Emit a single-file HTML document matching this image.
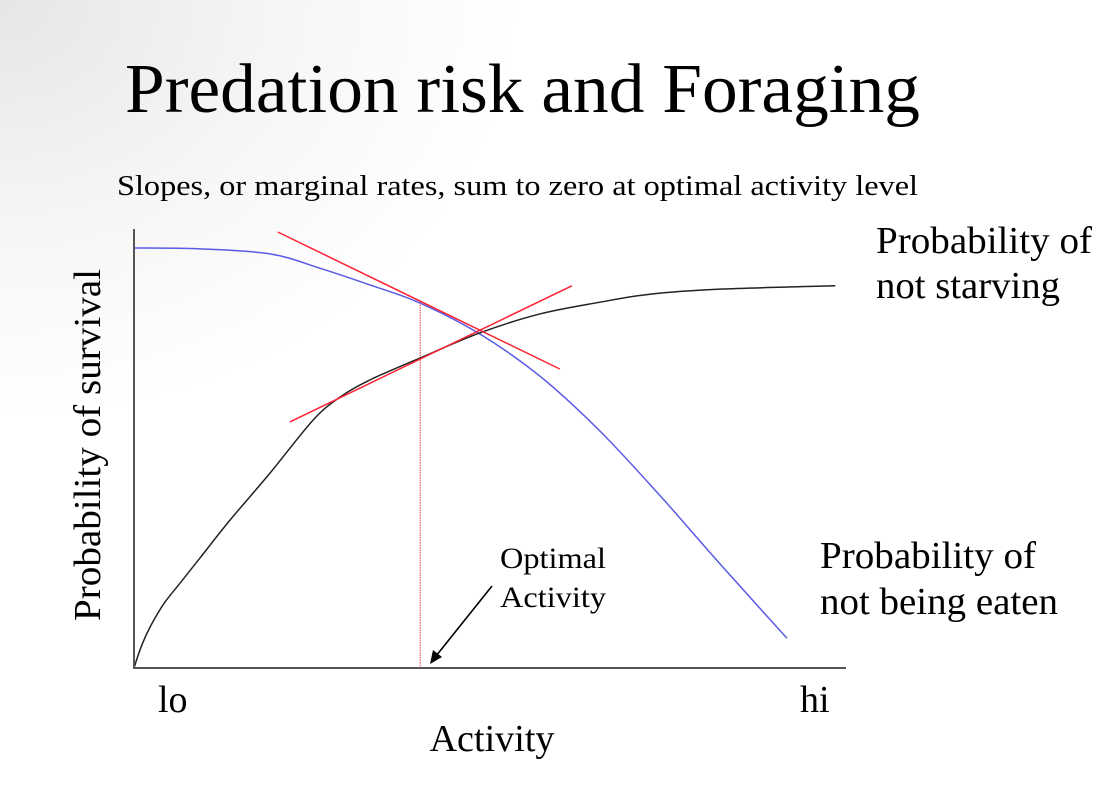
<!DOCTYPE html>
<html><head><meta charset="utf-8"><style>
html,body{margin:0;padding:0}
body{width:1109px;height:786px;overflow:hidden;background:radial-gradient(ellipse 520px 420px at 0 0,#e6e6e6 0%,#f6f6f6 55%,#fff 100%);font-family:"Liberation Serif",serif}
svg{position:absolute;left:0;top:0}
</style></head><body>
<svg width="1109" height="786" font-family="Liberation Serif, serif">
<text x="125" y="112" font-size="70" textLength="795" lengthAdjust="spacingAndGlyphs">Predation risk and Foraging</text>
<text x="117" y="195" font-size="29" textLength="801" lengthAdjust="spacingAndGlyphs">Slopes, or marginal rates, sum to zero at optimal activity level</text>
<g id="plot"></g>
<text transform="translate(100,445) rotate(-90)" text-anchor="middle" font-size="38" textLength="352" lengthAdjust="spacingAndGlyphs">Probability of survival</text>
<text x="158" y="712" font-size="38">lo</text>
<text x="800" y="712" font-size="38">hi</text>
<text x="492" y="751" text-anchor="middle" font-size="38" textLength="125" lengthAdjust="spacingAndGlyphs">Activity</text>
<text x="876" y="253" font-size="38" textLength="216" lengthAdjust="spacingAndGlyphs">Probability of</text>
<text x="876" y="298" font-size="38" textLength="184" lengthAdjust="spacingAndGlyphs">not starving</text>
<text x="820" y="568" font-size="38" textLength="216" lengthAdjust="spacingAndGlyphs">Probability of</text>
<text x="820" y="614" font-size="38" textLength="238" lengthAdjust="spacingAndGlyphs">not being eaten</text>
<text x="500" y="568" font-size="30" textLength="106" lengthAdjust="spacingAndGlyphs">Optimal</text>
<text x="500" y="607" font-size="30" textLength="106" lengthAdjust="spacingAndGlyphs">Activity</text>
</svg>
<script>
// x domain 0..100 (lo..hi), y domain 0..100 (survival probability)
const starveX=[0,0.84,1.83,2.95,4.35,6.46,9.27,13.48,19.1,25.14,28.93,33.15,40.17,48.6,57.0,65.45,72.47,82.3,98.5];
const starveY=[0,4.3,8.3,11.9,15.7,20.2,26.2,35.2,46.4,59.0,64.5,68.6,73.8,79.8,84.3,87.1,89.0,90.2,91];
const eatenX=[0,9.27,19.1,26.1,33.15,40.17,48.6,57,65.45,73.9,82.3,91.7];
const eatenY=[100,99.8,98.6,95.2,91.2,86.9,79.5,69.5,56.4,41.0,24.8,7.1];
const tangent1X=[20.2,59.8], tangent1Y=[103.8,71.2];
const tangent2X=[21.9,61.5], tangent2Y=[58.6,91];
const optimalX=40.2, optimalY=87.1;
const X0=134,X1=846,Y0=668,Y1=248;
const sx=v=>X0+v*(X1-X0)/100, sy=v=>Y0-v*(Y0-Y1)/100;
const NS='http://www.w3.org/2000/svg', g=document.getElementById('plot');
function mk(t,a,name){const e=document.createElementNS(NS,t);for(const k in a)e.setAttribute(k,a[k]);


g.appendChild(e);return e;}
function path(xs,ys){return xs.map((x,i)=>(i?'L':'M')+sx(x).toFixed(1)+' '+sy(ys[i]).toFixed(1)).join(' ');}
function smooth(xs,ys){const p=xs.map((x,i)=>[sx(x),sy(ys[i])]);let d='M'+p[0][0]+' '+p[0][1];
for(let i=0;i<p.length-1;i++){const a=p[i-1]||p[i],b=p[i],c=p[i+1],e=p[i+2]||c;
d+=' C'+(b[0]+(c[0]-a[0])/6)+' '+(b[1]+(c[1]-a[1])/6)+' '+(c[0]-(e[0]-b[0])/6)+' '+(c[1]-(e[1]-b[1])/6)+' '+c[0]+' '+c[1];}return d;}
mk('line',{x1:sx(optimalX),y1:sy(optimalY),x2:sx(optimalX),y2:Y0,stroke:'#e33',"stroke-width":1,"stroke-dasharray":"1.5 1"},'optimal-line');
mk('path',{d:smooth(eatenX,eatenY),fill:'none',stroke:'#5a5ae6',"stroke-width":1.5},'not-eaten-curve');
mk('path',{d:smooth(starveX,starveY),fill:'none',stroke:'#222',"stroke-width":1.5},'not-starving-curve');
mk('path',{d:path(tangent1X,tangent1Y),stroke:'#f23',"stroke-width":1.5},'tangent-eaten');
mk('path',{d:path(tangent2X,tangent2Y),stroke:'#f23',"stroke-width":1.5},'tangent-starving');
mk('line',{x1:X0,y1:229,x2:X0,y2:Y0+1,stroke:'#555',"stroke-width":2},'y-axis');
mk('line',{x1:X0-1,y1:Y0,x2:X1,y2:Y0,stroke:'#555',"stroke-width":2},'x-axis');
mk('line',{x1:492,y1:586,x2:436,y2:656,stroke:'#000',"stroke-width":1.6},'arrow-shaft');
mk('path',{d:'M430 664 L433 650 L442 657 Z',fill:'#000'},'arrow-head');
</script>
</body></html>
